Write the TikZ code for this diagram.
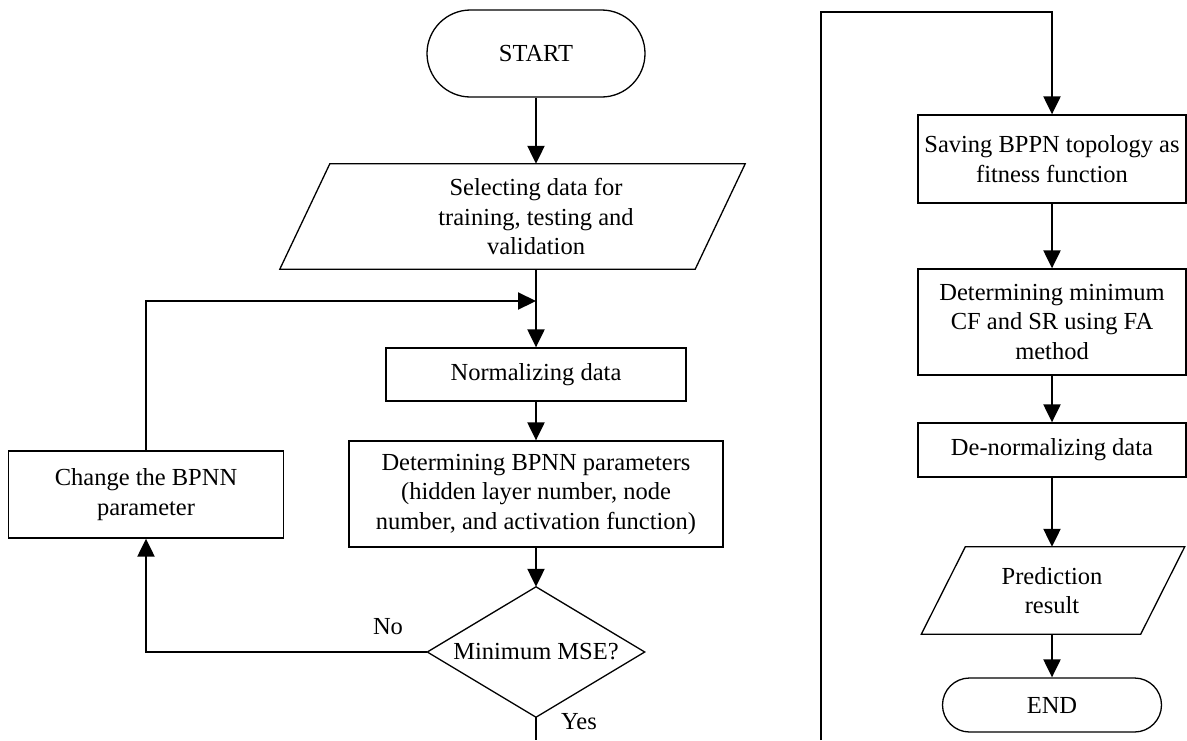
\documentclass[tikz,border=0pt]{standalone}
\usepackage{fontspec}
\setmainfont{Liberation Serif}
\usetikzlibrary{arrows.meta,calc}
\newcommand\flowfont{\fontsize{24.5}{29.5}\selectfont}
\begin{document}
\begin{tikzpicture}[x=1pt,y=-1pt,
  box/.style={draw, line width=1.3pt, inner sep=0pt, align=center, font=\flowfont},
  txt/.style={inner sep=0pt, align=center, font=\flowfont},
  shapeline/.style={draw, line width=1.3pt, line join=miter},
  conn/.style={draw, line width=2.2pt, -{Triangle[length=18pt,width=17pt]}},
  plainline/.style={draw, line width=2.2pt}
]
\useasboundingbox (0,0) rectangle (1187,740);

% ---- left column ----
\node[box, minimum width=218, minimum height=87, rounded corners=43.5] (start) at (536,53.5) {START};

\node[txt, minimum width=415, minimum height=105] (sel) at (536,216.5)
  {Selecting data for\\training, testing and\\validation};
\draw[shapeline] ($(sel.north west)+(1.5,0)$) -- ($(sel.north east)+(1.5,0)$)
  -- ($(sel.south east)+(-48.5,0)$) -- ($(sel.south west)+(-48.5,0)$) -- cycle;

\coordinate (m) at (536,301);

\node[box, minimum width=300, minimum height=53] (norm) at (536,374.5) {Normalizing data};

\node[box, minimum width=374, minimum height=106] (det) at (536,494)
  {Determining BPNN parameters\\(hidden layer number, node\\number, and activation function)};

\node[txt, minimum width=217, minimum height=130] (dia) at (536,652) {Minimum MSE?};
\draw[shapeline] (dia.north) -- (dia.east) -- (dia.south) -- (dia.west) -- cycle;

\node[box, minimum width=275, minimum height=87] (chg) at (146,494.5)
  {Change the BPNN\\parameter};

\node[txt] (no) at (388,627) {No};
\node[txt] (yes) at (579,722) {Yes};

\coordinate (bl) at (536,740);

\draw[conn] (start.south) -- (sel.north);
\draw[conn] (sel.south) -- (norm.north);
\draw[conn] (chg.north) |- (m);
\draw[conn] (norm.south) -- (det.north);
\draw[conn] (det.south) -- (dia.north);
\draw[conn] (dia.west) -| (chg.south);
\draw[plainline] (dia.south) -- (bl);

% ---- right column ----
\coordinate (rb) at (821,740);
\coordinate (rt) at (821,12);

\node[box, minimum width=268, minimum height=88] (save) at (1052,159)
  {Saving BPPN topology as\\fitness function};
\node[box, minimum width=268, minimum height=106] (dmin) at (1052,322)
  {Determining minimum\\CF and SR using FA\\method};
\node[box, minimum width=268, minimum height=54] (denorm) at (1052,450)
  {De-normalizing data};

\node[txt, minimum width=219, minimum height=87] (pred) at (1052,590.5)
  {Prediction\\result};
\draw[shapeline] ($(pred.north west)+(23,0)$) -- ($(pred.north east)+(23,0)$)
  -- ($(pred.south east)+(-21,0)$) -- ($(pred.south west)+(-21,0)$) -- cycle;

\node[box, minimum width=219, minimum height=54, rounded corners=27] (end) at (1052,705) {END};

\draw[conn] (rb) -- (rt) -| (save.north);
\draw[conn] (save.south) -- (dmin.north);
\draw[conn] (dmin.south) -- (denorm.north);
\draw[conn] (denorm.south) -- (pred.north);
\draw[conn] (pred.south) -- (end.north);
\end{tikzpicture}
\end{document}
